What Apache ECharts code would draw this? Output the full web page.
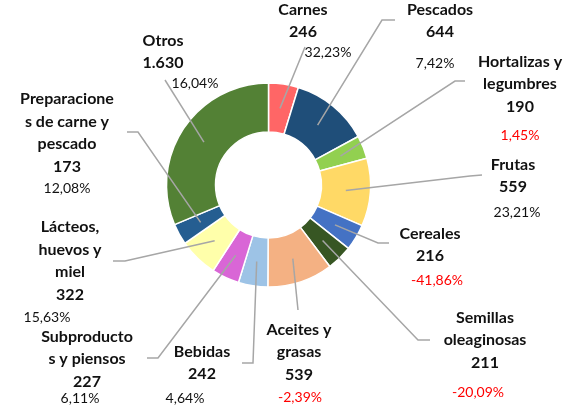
<!DOCTYPE html>
<html>
<head>
<meta charset="utf-8">
<script src="https://cdn.jsdelivr.net/npm/echarts@6/dist/echarts.min.js"></script>
<style>
  html, body { margin: 0; padding: 0; background: #fff; }
  #chart { width: 571px; height: 407px; }
</style>
</head>
<body>
<div id="chart"></div>
<script>
// categorias (con los saltos de linea tal como aparecen en la etiqueta)
const categories = [
  'Carnes', 'Pescados', 'Hortalizas y\nlegumbres', 'Frutas', 'Cereales',
  'Semillas\noleaginosas', 'Aceites y\ngrasas', 'Bebidas', 'Subproducto\ns y piensos',
  'Lácteos,\nhuevos y\nmiel', 'Preparacione\ns de carne y\npescado', 'Otros'
];
const values = [246, 644, 190, 559, 216, 211, 539, 242, 227, 322, 173, 1630];
// variacion %
const changes = [32.23, 7.42, 1.45, 23.21, -41.86, -20.09, -2.39, 4.64, 6.11, 15.63, 12.08, 16.04];

const colors = ['#FF6666', '#1F4E79', '#92D050', '#FFD966', '#4472C4', '#375623',
  '#F4B183', '#9DC3E6', '#D966D6', '#FFFFAA', '#255E91', '#538135'];
const redPct = [2, 4, 5, 6];

const center = [268.5, 185];
const radius = [53, 102];

// posicion del bloque nombre+valor
const namePos = [
  [303, 21], [440, 21], [520, 84], [513, 176], [430, 245], [485, 340],
  [299, 352], [202, 363], [87, 359], [70, 261], [67, 133], [163, 52]
];
// posicion del porcentaje
const pctPos = [
  [328, 52], [435, 63], [520, 135], [517, 212], [437, 280], [478, 392],
  [300, 397], [185, 398], [80, 398], [47, 317], [67, 188], [195, 83]
];
// puntos de la linea guia (codo y final)
const guide = [
  [[305, 47]],
  [[382, 20], [395, 20]],
  [[455, 81], [465, 81]],
  [[470, 176], [482, 175]],
  [[378, 243], [389, 243]],
  [[418, 340], [430, 340]],
  [[298, 310]],
  [[253, 363], [242, 363]],
  [[158, 358], [147, 358]],
  [[125, 261], [113, 261]],
  [[138, 132], [127, 132]],
  [[165, 80]]
];

function fmtNum(n) {
  return String(n).replace(/\B(?=(\d{3})+(?!\d))/g, '.');
}
function fmtPct(p) {
  return p.toFixed(2).replace('.', ',') + '%';
}

const myChart = echarts.init(document.getElementById('chart'));

// serie visible: sectores + porcentajes
const pieSeries = {
  type: 'pie',
  z: 2,
  center: center,
  radius: radius,
  startAngle: 90,
  avoidLabelOverlap: false,
  itemStyle: { borderColor: '#fff', borderWidth: 1.5 },
  data: categories.map((c, i) => ({
    name: c, value: values[i], itemStyle: { color: colors[i] },
    label: redPct.indexOf(i) >= 0 ? { color: '#FF0000' } : undefined
  })),
  label: {
    show: true,
    position: 'outside',
    fontFamily: 'Lato',
    fontSize: 14,
    color: '#111',
    formatter: (p) => fmtPct(changes[p.dataIndex])
  },
  labelLine: { show: false },
  labelLayout: (params) => ({
    x: pctPos[params.dataIndex][0],
    y: pctPos[params.dataIndex][1],
    align: 'center',
    verticalAlign: 'middle'
  })
};

// serie transparente encima: nombres, valores y lineas guia
const labelSeries = {
  type: 'pie',
  z: 3,
  silent: true,
  center: center,
  radius: radius,
  startAngle: 90,
  avoidLabelOverlap: false,
  itemStyle: { color: 'rgba(0,0,0,0)' },
  data: categories.map((c, i) => ({ name: c, value: values[i] })),
  label: {
    show: true,
    position: 'outside',
    fontFamily: 'Lato',
    fontWeight: 'bold',
    fontSize: 16,
    lineHeight: 22.5,
    color: '#111',
    align: 'center',
    formatter: (p) => p.name + '\n' + fmtNum(p.value)
  },
  labelLine: {
    show: true,
    lineStyle: { color: '#A6A6A6', width: 1.5 }
  },
  labelLayout: (params) => {
    const i = params.dataIndex;
    // inicio: mitad del anillo en el angulo medio del sector
    const pts = params.labelLinePoints;
    const out = {
      x: namePos[i][0],
      y: namePos[i][1],
      align: 'center',
      verticalAlign: 'middle'
    };
    if (pts && pts.length) {
      const dx = pts[0][0] - center[0];
      const dy = pts[0][1] - center[1];
      const d = Math.sqrt(dx * dx + dy * dy) || 1;
      const r = (radius[0] + radius[1]) / 2;
      out.labelLinePoints = [[center[0] + dx / d * r, center[1] + dy / d * r]].concat(guide[i]);
    }
    return out;
  }
};

const options = {
  animation: false,
  series: [pieSeries, labelSeries]
};

myChart.setOption(options);
</script>
</body>
</html>
